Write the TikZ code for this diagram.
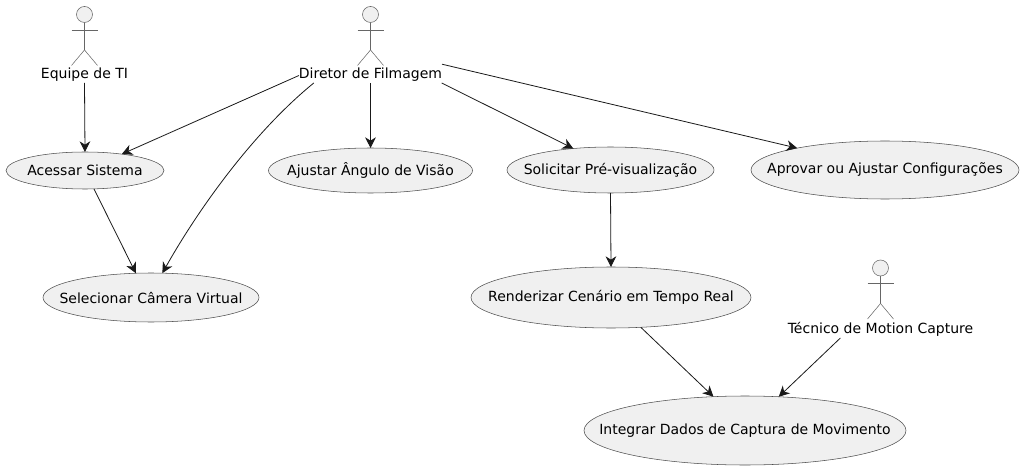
\documentclass[tikz,border=0pt]{standalone}
\usepackage{fontspec}
\setmainfont{DejaVu Sans}
\usetikzlibrary{shapes.geometric, arrows.meta, positioning}

\begin{document}
\begin{tikzpicture}[
  x=0.75pt, y=-0.75pt,
  usecase/.style 2 args = {ellipse, draw=black!70, line width=0.4pt, fill=black!6,
                  minimum width=#1*0.75pt, minimum height=#2*0.75pt,
                  inner xsep=-40pt, inner ysep=0pt, outer sep=0pt, font=\fontsize{10.5pt}{12pt}\selectfont},
  actorname/.style = {inner sep=0pt, outer sep=0pt, minimum height=15pt, text height=10.5pt, text depth=2pt,
                  font=\fontsize{10.5pt}{12pt}\selectfont},
  actorhead/.style = {circle, draw=black!60, line width=0.4pt, fill=black!6,
                  minimum size=12pt, inner sep=0pt, outer sep=0pt},
  stick/.style = {draw=black!60, line width=0.4pt},
  arr/.style   = {-{Stealth[length=8pt, width=8pt, inset=2.5pt]}, line width=0.6pt, draw=black!90},
]
\useasboundingbox (0,0) rectangle (1023,470);

% ── Actors ─────────────────────────────────────────────────────────────────────
\node[actorname] (equipe)  at (84.5,73)  {Equipe de TI};
\node[actorname] (diretor) at (370.5,73) {Diretor de Filmagem};
\node[actorname] (tecnico) at (880.5,328) {Técnico de Motion Capture};

\node[actorhead, above=30.4pt of equipe]  (equipehead)  {};
\node[actorhead, above=30.4pt of diretor] (diretorhead) {};
\node[actorhead, above=31.5pt of tecnico] (tecnicohead) {};

\foreach \who in {equipehead, diretorhead, tecnicohead} {
  \draw[stick] (\who.south) -- ++(0,27.5) coordinate (\who hip) -- ++(-13,15.5);
  \draw[stick] (\who hip) -- ++(13,15.5);
  \draw[stick] ([xshift=-13*0.75pt, yshift=-7.5*0.75pt]\who.south) -- ++(26.5,0);
}

% ── Use cases ──────────────────────────────────────────────────────────────────
\node[usecase={158}{37}] (acessar)    at (85,170.5)  {Acessar Sistema};
\node[usecase={204}{45}] (ajustar)    at (370.5,170.5) {Ajustar Ângulo de Visão};
\node[usecase={207}{46}] (solicitar)  at (610.5,170) {Solicitar Pré-visualização};
\node[usecase={268}{58}] (aprovar)    at (885,170)   {Aprovar ou Ajustar Configurações};
\node[usecase={216}{49}] (selecionar) at (151,297.5) {Selecionar Câmera Virtual};
\node[usecase={280}{61}] (renderizar) at (611,297.5) {Renderizar Cenário em Tempo Real};
\node[usecase={322}{69}] (integrar)   at (745,430.5) {Integrar Dados de Captura de Movimento};

% ── Arrows ─────────────────────────────────────────────────────────────────────
\foreach \from/\to in {equipe.south/acessar.north, diretor.182.4/acessar.24.6,
                        diretor.south/ajustar.north, diretor.352.9/solicitar.150.3,
                        diretor.7.9/aprovar.166.6, acessar.-64/selecionar.122,
                        solicitar.south/renderizar.north, renderizar.-45.5/integrar.133.7,
                        tecnico.194.9/integrar.45.4}
  \draw[arr] (\from) -- (\to);

\draw[arr] (diretor.190.7) .. controls (250,135) and (195,215) .. (selecionar.65.4);

\end{tikzpicture}
\end{document}
